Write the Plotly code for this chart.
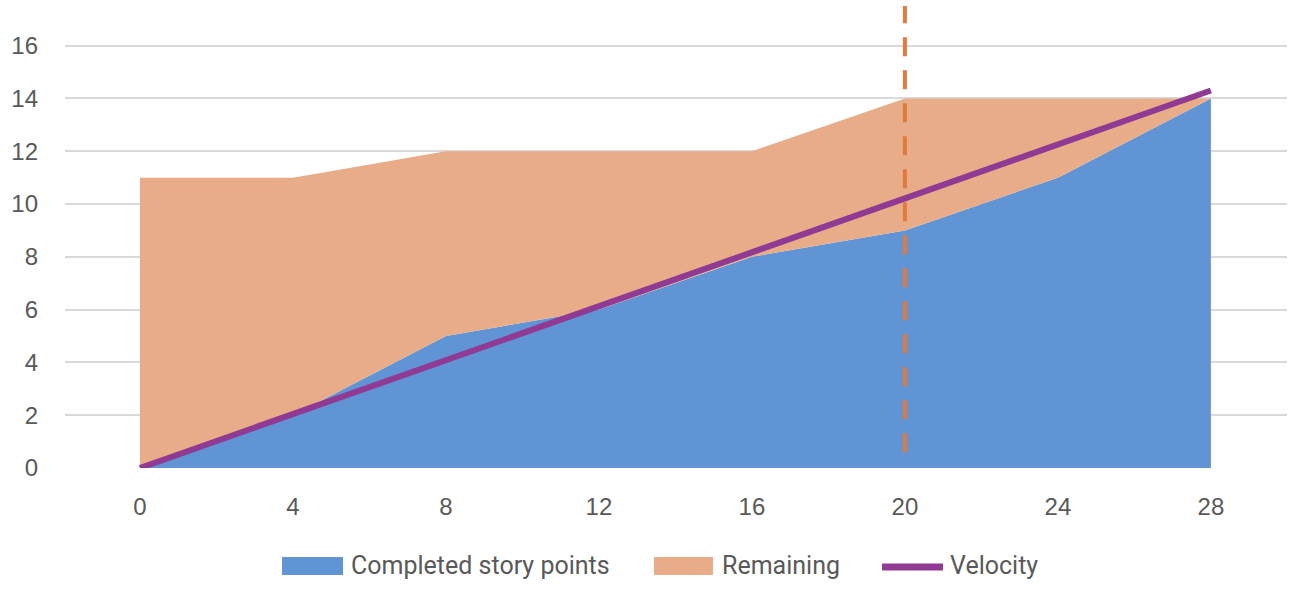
import plotly.graph_objects as go

days = [0, 4, 8, 12, 16, 20, 24, 28]
completed = [0, 2, 5, 6, 8, 9, 11, 14]
remaining = [11, 9, 7, 6, 4, 5, 3, 0]
velocity = [0, 2.04, 4.09, 6.13, 8.17, 10.21, 12.26, 14.3]
marker_x = [20, 20]
marker_y = [0.6, 17.5]
y_ticks = [0, 2, 4, 6, 8, 10, 12, 14, 16]
x_ticks = [0, 4, 8, 12, 16, 20, 24, 28]

BLUE = "#6194D4"
ORANGE = "#E8AD88"
PURPLE = "#903A93"
DASH = "#E07A3E"
TXT = "#595959"

fig = go.Figure()
fig.add_trace(go.Scatter(x=days, y=completed, stackgroup="one", mode="none",
                         fillcolor=BLUE, name="Completed story points", showlegend=False))
fig.add_trace(go.Scatter(x=days, y=remaining, stackgroup="one", mode="none",
                         fillcolor=ORANGE, name="Remaining", showlegend=False))
fig.add_trace(go.Scatter(x=days, y=velocity, mode="lines",
                         line=dict(color=PURPLE, width=6), name="Velocity", showlegend=False))
fig.add_trace(go.Scatter(x=marker_x, y=marker_y, mode="lines",
                         line=dict(color=DASH, width=4, dash="19px,14px"), showlegend=False))

# legend (drawn manually to match swatch sizes)
legend_items = [
    ("rect", BLUE, 0.1776, 0.2275, "Completed story points", 0.2324),
    ("rect", ORANGE, 0.4820, 0.5303, "Remaining", 0.5360),
    ("line", PURPLE, 0.6686, 0.7185, "Velocity", 0.7226),
]
ly = -0.2094
for kind, col, x0, x1, label, tx in legend_items:
    if kind == "rect":
        fig.add_shape(type="rect", xref="paper", yref="paper", x0=x0, x1=x1,
                      y0=-0.1902, y1=-0.2286, fillcolor=col, line=dict(width=0))
    else:
        fig.add_shape(type="line", xref="paper", yref="paper", x0=x0, x1=x1,
                      y0=-0.2115, y1=-0.2115, line=dict(color=col, width=7))
    fig.add_annotation(xref="paper", yref="paper", x=tx, y=ly, text=label,
                       showarrow=False, xanchor="left", yanchor="middle",
                       font=dict(family="Roboto, sans-serif", size=25, color=TXT))

fig.update_layout(
    width=1294, height=600,
    margin=dict(l=65, r=7, t=0, b=132),
    plot_bgcolor="white", paper_bgcolor="white",
    font=dict(family="Liberation Sans, Arial, sans-serif", size=24, color=TXT),
)
fig.update_xaxes(range=[-1.96, 29.99], tickvals=x_ticks, showgrid=False, zeroline=False,
                 showline=False, ticks="", ticklabelstandoff=22)
fig.update_yaxes(range=[0, 17.73], tickvals=y_ticks, showgrid=True, gridcolor="#D9D9D9",
                 gridwidth=1.5, zeroline=False, showline=False, ticks="", ticklabelstandoff=26)

fig.write_html("out.html")
